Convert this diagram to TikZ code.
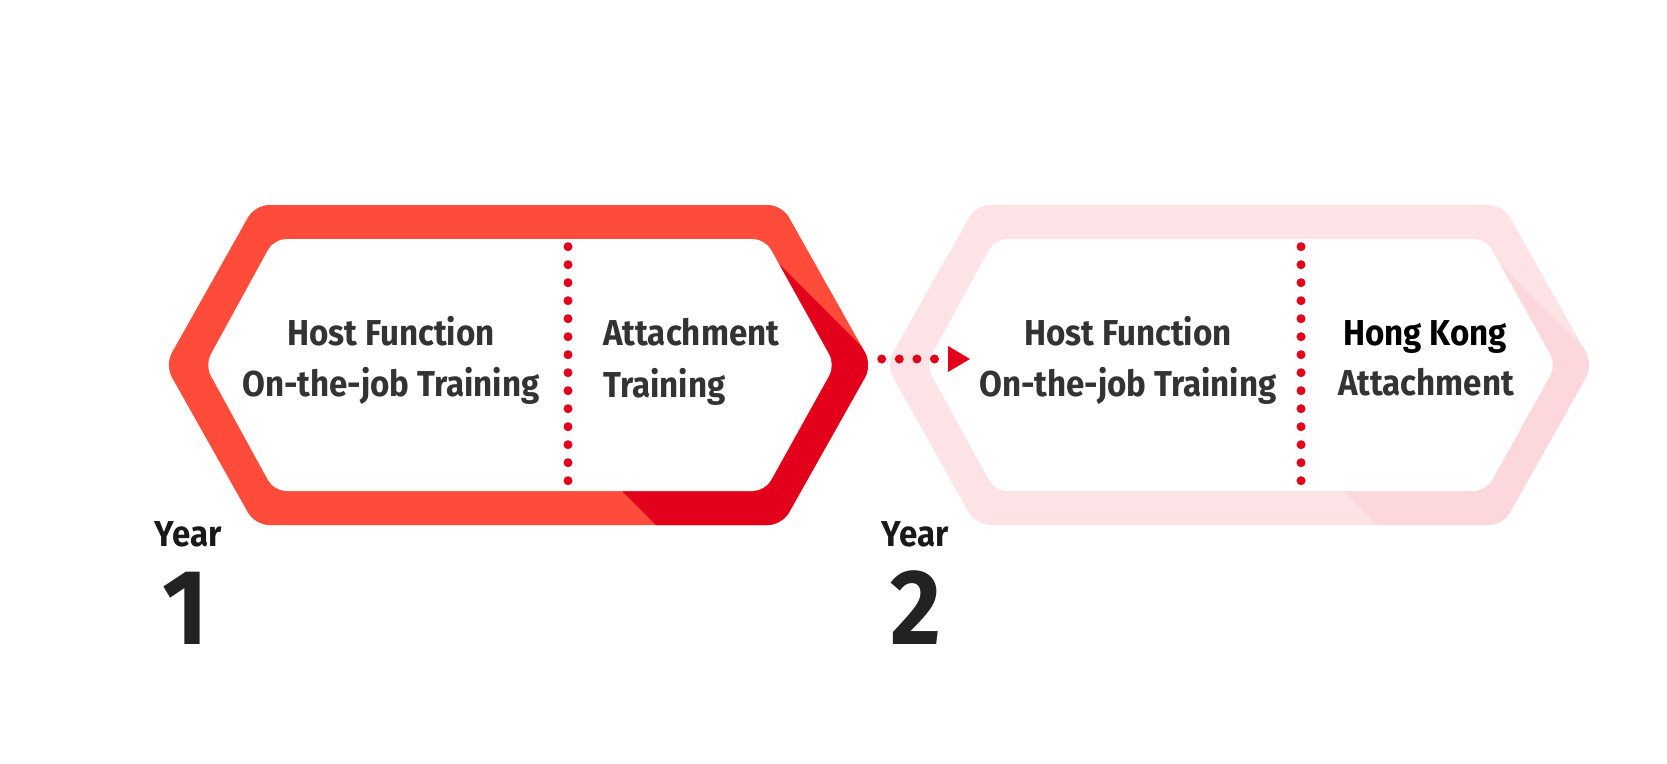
\documentclass[tikz,border=0pt]{standalone}
\usepackage{fontspec}
\setmainfont{Fira Sans}[FakeStretch=0.92]
\usetikzlibrary{arrows.meta}
\definecolor{hexred}{HTML}{FF4B3A}
\definecolor{hexdark}{HTML}{E3001B}
\definecolor{hexpink}{HTML}{FDE3E5}
\definecolor{hexpinkdark}{HTML}{FCD8DD}
\definecolor{txtgray}{HTML}{333333}
\definecolor{numgray}{HTML}{222222}

% one year hexagon: band colour, fold colour
\newcommand{\drawhex}[2]{%
\begin{scope}
\clip[rounded corners=14pt] (165,365) -- (255,205) -- (782,205) -- (872,365) -- (782,525) -- (255,525) -- cycle;
\fill[#1] (100,150) rectangle (950,600);
\fill[#2] (778,263) -- (920,405) -- (920,560) -- (691,560) -- (622,491) -- cycle;
\end{scope}
\fill[white,rounded corners=12pt] (205,365) -- (274,239) -- (765,239) -- (835,365) -- (765,491) -- (274,491) -- cycle;
}

\begin{document}
\begin{tikzpicture}[x=1pt,y=-1pt,
  lbl/.style={inner sep=0pt,anchor=base,text=txtgray,font=\fontsize{36}{40}\selectfont\bfseries},
  yearlbl/.style={inner sep=0pt,anchor=base,text=black!90,font=\fontsize{36}{40}\selectfont\bfseries},
  numlbl/.style={inner sep=0pt,anchor=base,text=numgray,font=\fontsize{107}{110}\selectfont\bfseries},
  dotarrow/.style={hexdark,line width=9pt,line cap=round,dash pattern=on 0pt off 17.6pt,
    -{Triangle[length=22pt,width=26pt,line width=0pt]}}]
\useasboundingbox (0,0) rectangle (1667,763);
\drawhex{hexred}{hexdark}
\begin{scope}[xshift=721pt]
\drawhex{hexpink}{hexpinkdark}
\end{scope}
% dotted dividers
\foreach \k in {0,...,13} {
  \fill[hexdark] (568,246.7+18*\k) circle (4.5);
  \fill[hexdark] (1301,246.7+18*\k) circle (4.5);
}
% arrow between the years
\coordinate (arrowfrom) at (881.7,359);
\coordinate (arrowto) at (970,359);
\draw[dotarrow] (arrowfrom) -- (arrowto);
% texts
\node[lbl] (hostA) at (391,345.7) {Host Function};
\node[lbl] (ojtA) at (391,396) {On-the-job Training};
\node[lbl,anchor=base west] (attachA) at (603,345.7) {Attachment};
\node[lbl,anchor=base west] (trainA) at (603,397) {Training};
\node[lbl] (hostB) at (1128,345.7) {Host Function};
\node[lbl] (ojtB) at (1128,396) {On-the-job Training};
\node[lbl,text=black] (hkB) at (1425,345.7) {Hong Kong};
\node[lbl] (attachB) at (1426,395) {Attachment};
\node[yearlbl] (yearA) at (188,546.7) {Year};
\node[numlbl] (numA) at (185,644) {1};
\node[yearlbl] (yearB) at (915,546.7) {Year};
\node[numlbl] (numB) at (916,644) {2};
\end{tikzpicture}
\end{document}
